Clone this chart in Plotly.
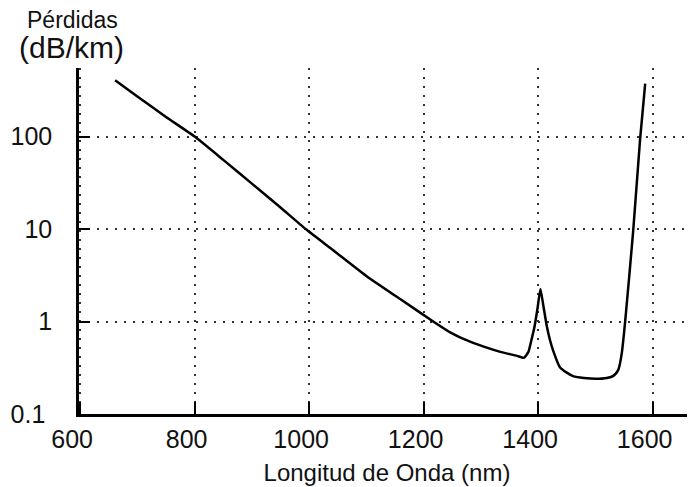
import plotly.graph_objects as go

# Data (wavelength in nm, loss in dB/km)
wavelength_nm = [661, 700, 750, 800, 850, 900, 950, 994, 1042, 1101, 1159, 1218,
                 1247, 1276, 1305, 1334, 1363, 1375, 1383, 1388, 1394, 1399, 1404,
                 1409, 1415, 1421, 1427, 1438, 1450, 1462, 1480, 1500, 1520, 1532,
                 1540, 1546, 1552, 1566, 1578, 1587]
loss_db_km = [407, 272, 163, 100, 56, 31, 17.1, 10, 5.9, 3.07, 1.75, 0.99,
              0.76, 0.625, 0.535, 0.47, 0.425, 0.405, 0.47, 0.62, 0.9, 1.4, 2.25,
              1.5, 0.9, 0.62, 0.47, 0.32, 0.28, 0.255, 0.245, 0.24, 0.245, 0.26,
              0.3, 0.45, 1.0, 9.5, 92, 375]

x_tick_vals = [600, 800, 1000, 1200, 1400, 1600]
x_tick_text = ["600", "800", "1000", "1200", "1400", "1600"]
y_tick_vals = [0.1, 1, 10, 100]
y_tick_text = ["0.1\u00a0", "1", "10", "100"]

FONT = "Liberation Sans, Arial, sans-serif"

fig = go.Figure()
fig.add_trace(go.Scatter(
    x=wavelength_nm, y=loss_db_km, mode="lines",
    line=dict(color="black", width=2.5, shape="spline", smoothing=0.5),
    showlegend=False, hoverinfo="skip",
))

# The page body has an 8px default margin: compensate so the plot lands
# where it is in the reference.
OFF = 8
L, R, T, B = 79 - OFF, 0, 68 - OFF, 73
W, H = 695 - OFF, 487 - OFF
pw, ph = W - L - R, H - T - B

fig.update_layout(
    width=W, height=H,
    margin=dict(l=L, r=R, t=T, b=B, autoexpand=False),
    paper_bgcolor="white", plot_bgcolor="white",
    font=dict(family=FONT, color="#111"),
    xaxis=dict(
        range=[598, 1674], tickvals=x_tick_vals, ticktext=x_tick_text,
        automargin=False,
        showline=True, linecolor="black", linewidth=2.5,
        ticks="inside", ticklen=12, tickwidth=2, tickcolor="black",
        showgrid=True, gridcolor="#333", gridwidth=1.5, griddash="2px,7px",
        zeroline=False, tickfont=dict(size=25, color="#111"),
        ticklabelshift=-8, ticklabelstandoff=1,
        title=dict(text="Longitud de Onda (nm)", font=dict(size=24, color="#111"),
                   standoff=13),
    ),
    yaxis=dict(
        type="log", range=[-1, 2.742], tickvals=y_tick_vals, ticktext=y_tick_text,
        automargin=False,
        showline=True, linecolor="black", linewidth=2.5,
        ticks="inside", ticklen=11, tickwidth=2, tickcolor="black",
        showgrid=True, gridcolor="#333", gridwidth=1.5, griddash="2px,7px",
        zeroline=False, tickfont=dict(size=25, color="#111"),
        ticklabelstandoff=19,
    ),
    annotations=[
        dict(text="Pérdidas", xref="paper", yref="paper",
             x=(72 - OFF - L) / pw, y=(H - B - (20 - OFF)) / ph,
             xanchor="center", yanchor="middle",
             showarrow=False, font=dict(size=23, color="#111", family=FONT)),
        dict(text="(dB/km)", xref="paper", yref="paper",
             x=(71 - OFF - L) / pw, y=(H - B - (48 - OFF)) / ph,
             xanchor="center", yanchor="middle",
             showarrow=False, font=dict(size=30, color="#111", family=FONT)),
    ],
)

fig.write_html("out.html")
